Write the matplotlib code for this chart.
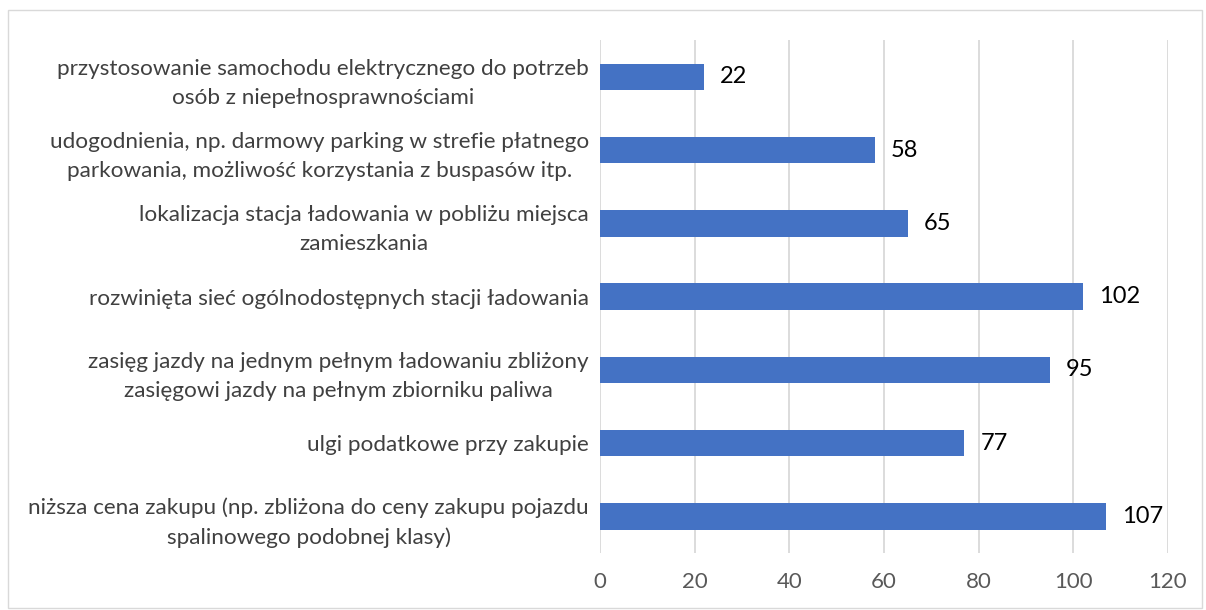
import matplotlib.pyplot as plt
from matplotlib.patches import Rectangle

categories = [
    'niższa cena zakupu (np. zbliżona do ceny zakupu pojazdu\nspalinowego podobnej klasy)',
    'ulgi podatkowe przy zakupie',
    'zasięg jazdy na jednym pełnym ładowaniu zbliżony\nzasięgowi jazdy na pełnym zbiorniku paliwa',
    'rozwinięta sieć ogólnodostępnych stacji ładowania',
    'lokalizacja stacja ładowania w pobliżu miejsca\nzamieszkania',
    'udogodnienia, np. darmowy parking w strefie płatnego\nparkowania, możliwość korzystania z buspasów itp.',
    'przystosowanie samochodu elektrycznego do potrzeb\nosób z niepełnosprawnościami',
]
values = [107, 77, 95, 102, 65, 58, 22]
xticks = [0, 20, 40, 60, 80, 100, 120]

plt.rcParams['font.family'] = ['Lato', 'DejaVu Sans']

fig = plt.figure(figsize=(12.06, 6.10), dpi=100)
ax = fig.add_axes([0.4975, 0.0934, 0.471, 0.8406])

# ramka wykresu
fig.patches.append(Rectangle((8 / 1206, 2 / 610), 1194 / 1206, 598 / 610,
                             transform=fig.transFigure, fill=False,
                             edgecolor='#d9d9d9', linewidth=1))

y = range(len(values))
ax.barh(y, values, height=0.36, color='#4472C4', zorder=3)
for i, v in enumerate(values):
    ax.annotate(str(v), (v, i), xytext=(16, 0), textcoords='offset pixels',
                va='center', ha='left', fontsize=17, color='black')

ax.set_xlim(0, 120)
ax.set_ylim(-0.5, len(values) - 0.5)
ax.set_xticks(xticks)
ax.set_yticks(list(y))
ax.set_yticklabels(categories, fontsize=16.2, color='#404040')
for t in ax.get_yticklabels():
    t.set_multialignment('center')
    t.set_linespacing(1.55)
ax.tick_params(axis='y', length=0, pad=8)
ax.tick_params(axis='x', length=0, pad=14, labelsize=16, labelcolor='#595959')
ax.grid(axis='x', color='#d9d9d9', linewidth=1.3, zorder=0)
for s in ax.spines.values():
    s.set_visible(False)

plt.savefig('out.png', dpi=100)
